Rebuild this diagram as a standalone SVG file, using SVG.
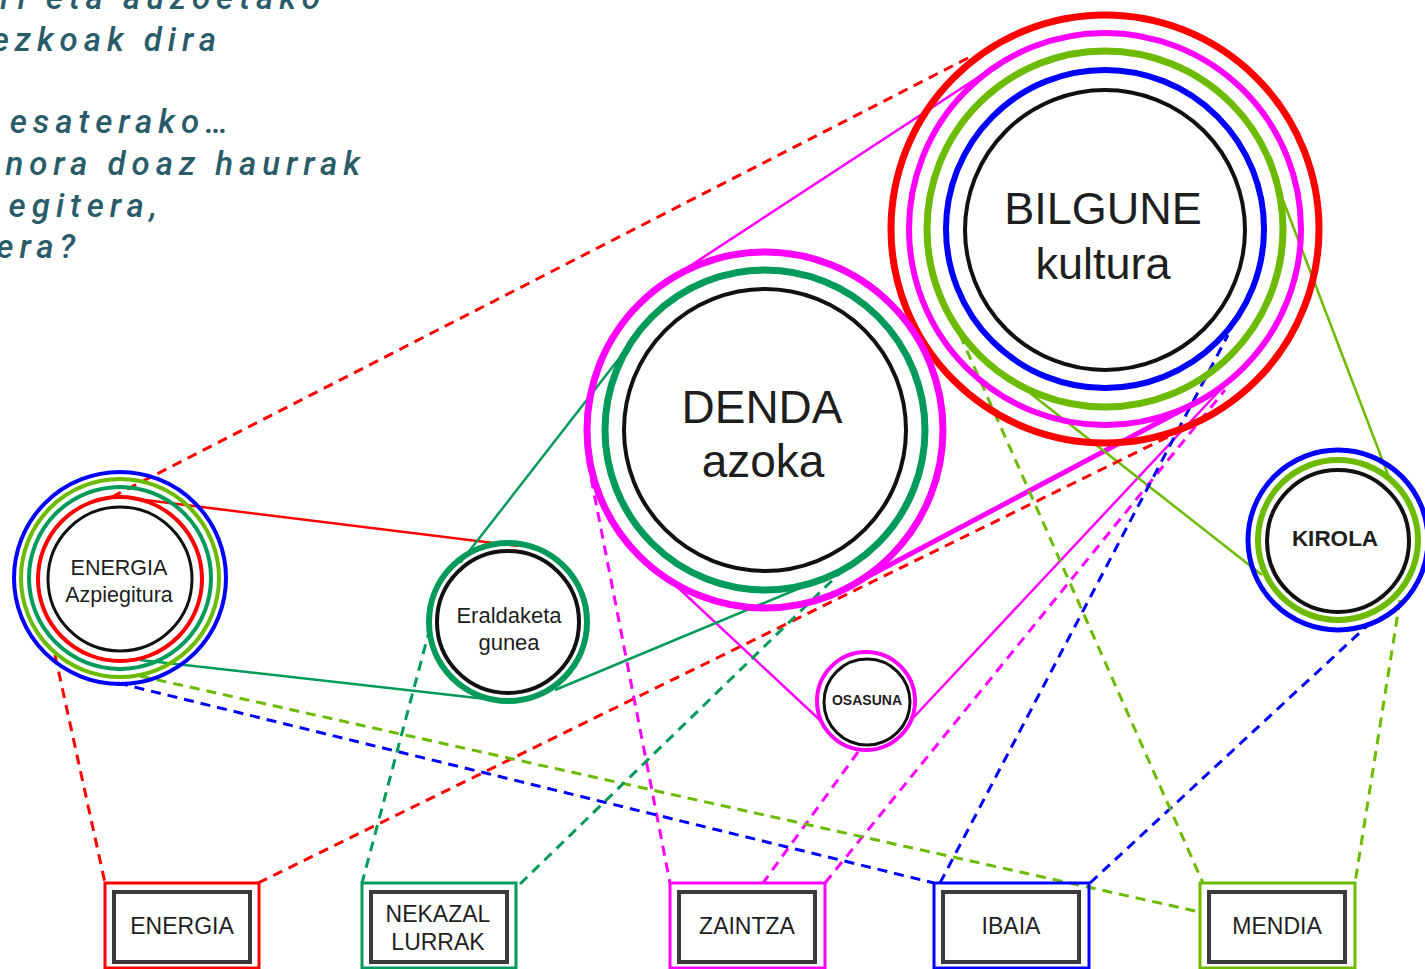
<svg xmlns="http://www.w3.org/2000/svg" width="1425" height="969" viewBox="0 0 1425 969">
<style>
.bg{fill:#ffffff}
.intro{font-family:Roboto,"Liberation Sans",sans-serif;font-style:italic;font-weight:500;font-size:33px;letter-spacing:6px;fill:#2a5b69}
.ring{fill:none}
.core{fill:#ffffff;stroke:#111111}
.r{stroke:#ff0000}
.m{stroke:#ff00ff}
.l{stroke:#6cbb00}
.b{stroke:#0000ff}
.g{stroke:#009a5a}
.lbl{font-family:"Liberation Sans",Arial,sans-serif;fill:#1e1e1e;text-anchor:middle}
.bold{font-weight:bold}
.solid{fill:none;stroke-width:2.5}
.dash{fill:none;stroke-width:3;stroke-dasharray:10 7}
.outer{fill:none;stroke-width:3}
.inner{fill:#ffffff;stroke:#3a3a3a;stroke-width:4}
</style>
<rect class="bg" x="0" y="0" width="1425" height="969"/>

<g id="intro-text">
<text class="intro" x="326" y="9" text-anchor="end">ri eta auzoetako</text>
<text class="intro" x="222" y="51" text-anchor="end">ezkoak dira</text>
<text class="intro" x="234" y="133" text-anchor="end">esaterako…</text>
<text class="intro" x="366" y="175" text-anchor="end">nora doaz haurrak</text>
<text class="intro" x="163" y="217" text-anchor="end">egitera,</text>
<text class="intro" x="81" y="258" text-anchor="end">era?</text>
</g>

<g id="connectors">
<!-- solid -->
<line class="solid m" x1="667" y1="281" x2="997" y2="65"/>
<line class="m" fill="none" stroke-width="5" x1="848" y1="587" x2="1197" y2="402"/>
<line class="solid m" x1="673" y1="583" x2="822" y2="722"/>
<line class="solid m" x1="913" y1="718" x2="1222" y2="388"/>
<line class="solid l" x1="1283" y1="200" x2="1390" y2="480"/>
<line class="solid l" x1="1030" y1="393" x2="1262" y2="575"/>
<line class="solid r" x1="145" y1="500" x2="518" y2="546"/>
<line class="solid g" x1="140" y1="660" x2="495" y2="700"/>
<line class="solid g" x1="555" y1="690" x2="848" y2="568"/>
<line class="solid g" x1="460" y1="563" x2="628" y2="347"/>
<!-- dashed -->
<line class="dash r" x1="112" y1="497" x2="968" y2="58"/>
<line class="dash r" x1="55" y1="655" x2="105" y2="883"/>
<line class="dash r" x1="258" y1="883" x2="1182" y2="430"/>
<line class="dash m" x1="588" y1="462" x2="670" y2="883"/>
<line class="dash m" x1="858" y1="752" x2="763" y2="883"/>
<line class="dash m" x1="825" y1="883" x2="1225" y2="390"/>
<line class="dash b" x1="118" y1="683" x2="934" y2="883"/>
<line class="dash b" x1="940" y1="883" x2="1228" y2="335"/>
<line class="dash b" x1="1090" y1="883" x2="1368" y2="625"/>
<line class="dash l" x1="140" y1="676" x2="1200" y2="912"/>
<line class="dash l" x1="960" y1="335" x2="1203" y2="883"/>
<line class="dash l" x1="1400" y1="600" x2="1355" y2="883"/>
<line class="dash g" x1="430" y1="628" x2="362" y2="883"/>
<line class="dash g" x1="520" y1="884" x2="845" y2="568"/>
</g>

<g id="node-bilgune">
<circle class="ring r" cx="1105" cy="229" r="214" stroke-width="7"/>
<circle class="ring m" cx="1105" cy="229" r="196" stroke-width="6"/>
<circle class="ring l" cx="1105" cy="229" r="178" stroke-width="7"/>
<circle class="ring b" cx="1105" cy="229" r="159" stroke-width="6"/>
<circle class="core" cx="1105" cy="230" r="140" stroke-width="4"/>
<text class="lbl" x="1103" y="224" font-size="45">BILGUNE</text>
<text class="lbl" x="1103" y="279" font-size="45">kultura</text>
</g>

<g id="node-denda">
<circle class="ring m" cx="765" cy="430" r="178" stroke-width="7"/>
<circle class="ring g" cx="765" cy="430" r="160" stroke-width="7"/>
<circle class="core" cx="765" cy="430" r="141" stroke-width="4"/>
<text class="lbl" x="762" y="423" font-size="46">DENDA</text>
<text class="lbl" x="763" y="477" font-size="46">azoka</text>
</g>

<g id="node-kirola">
<circle class="ring b" cx="1338" cy="540" r="90" stroke-width="5"/>
<circle class="ring l" cx="1338" cy="540" r="80" stroke-width="6"/>
<circle class="core" cx="1338" cy="541" r="71" stroke-width="4"/>
<text class="lbl bold" x="1335" y="546" font-size="22.5">KIROLA</text>
</g>

<g id="node-energia">
<circle class="ring b" cx="120" cy="578" r="106" stroke-width="4"/>
<circle class="ring l" cx="120" cy="578" r="99" stroke-width="4"/>
<circle class="ring g" cx="120" cy="578" r="91" stroke-width="4"/>
<circle class="ring r" cx="120" cy="579" r="82" stroke-width="4"/>
<circle class="core" cx="120" cy="579" r="72" stroke-width="3"/>
<text class="lbl" x="119" y="575" font-size="21.5">ENERGIA</text>
<text class="lbl" x="119" y="602" font-size="21.5">Azpiegitura</text>
</g>

<g id="node-eraldaketa">
<circle class="ring g" cx="508" cy="622" r="79" stroke-width="6"/>
<circle class="core" cx="508" cy="622" r="71" stroke-width="4"/>
<text class="lbl" x="509" y="623" font-size="22">Eraldaketa</text>
<text class="lbl" x="509" y="650" font-size="22">gunea</text>
</g>

<g id="node-osasuna">
<circle class="ring m" cx="866" cy="701" r="49" stroke-width="4"/>
<circle class="core" cx="867" cy="702" r="43" stroke-width="3"/>
<text class="lbl bold" x="867" y="705" font-size="14">OSASUNA</text>
</g>

<g id="box-energia">
<rect class="outer r" x="105" y="883" width="154" height="85"/>
<rect class="inner" x="114" y="892" width="136" height="70"/>
<text class="lbl" x="182" y="934" font-size="23">ENERGIA</text>
</g>

<g id="box-nekazal">
<rect class="outer g" x="362" y="883" width="154" height="85"/>
<rect class="inner" x="371" y="892" width="136" height="70"/>
<text class="lbl" x="438" y="922" font-size="23">NEKAZAL</text>
<text class="lbl" x="438" y="950" font-size="23">LURRAK</text>
</g>

<g id="box-zaintza">
<rect class="outer m" x="670" y="883" width="155" height="85"/>
<rect class="inner" x="679" y="892" width="136" height="70"/>
<text class="lbl" x="747" y="934" font-size="23">ZAINTZA</text>
</g>

<g id="box-ibaia">
<rect class="outer b" x="934" y="883" width="155" height="85"/>
<rect class="inner" x="943" y="892" width="136" height="70"/>
<text class="lbl" x="1011" y="934" font-size="23">IBAIA</text>
</g>

<g id="box-mendia">
<rect class="outer l" x="1200" y="883" width="155" height="85"/>
<rect class="inner" x="1209" y="892" width="136" height="70"/>
<text class="lbl" x="1277" y="934" font-size="23">MENDIA</text>
</g>
</svg>
